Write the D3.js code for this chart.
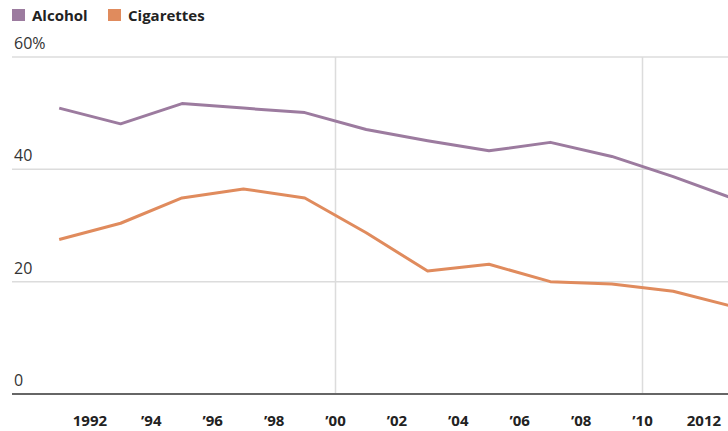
<!DOCTYPE html>
<html>
<head>
<meta charset="utf-8">
<script src="https://cdn.jsdelivr.net/npm/d3@7"></script>
<style>
  body { margin: 0; background: #fff; }
  svg { display: block; font-family: "Open Sans", sans-serif; }
</style>
</head>
<body>
<div id="chart"></div>
<script>
// data (odd survey years)
const years = [1991, 1993, 1995, 1997, 1999, 2001, 2003, 2005, 2007, 2009, 2011, 2013];
const alcohol = [50.9, 48.1, 51.7, 50.9, 50.1, 47.1, 45.1, 43.3, 44.8, 42.3, 38.7, 34.7];
const cigarettes = [27.5, 30.4, 34.9, 36.5, 34.9, 28.7, 21.9, 23.1, 20.0, 19.6, 18.3, 15.5];
const tickYears = [1992, 1994, 1996, 1998, 2000, 2002, 2004, 2006, 2008, 2010, 2012];
const yTicks = [0, 20, 40, 60];
const seriesNames = ["Alcohol", "Cigarettes"];
const colors = ["#9c7b9f", "#e08b5d"];

const width = 728;
const height = 431;

const svg = d3.select("#chart")
    .append("svg")
    .attr("width", width)
    .attr("height", height);

const x = d3.scaleLinear()
    .domain([2000, 2010])
    .range([335.5, 642.5]);

const y = d3.scaleLinear()
    .domain([0, 60])
    .range([394, 57]);

// horizontal gridlines + labels
yTicks.forEach(t => {
    if (t > 0) {
        svg.append("line")
            .attr("x1", 12).attr("x2", width)
            .attr("y1", y(t)).attr("y2", y(t))
            .attr("stroke", "#dcdcdc")
            .attr("stroke-width", 1.5);
    }
    svg.append("text")
        .attr("x", 14)
        .attr("y", y(t) - 8)
        .attr("font-size", 16)
        .attr("fill", "#333")
        .text(t === 60 ? "60%" : t);
});

// vertical gridlines at decades
[2000, 2010].forEach(yr => {
    svg.append("line")
        .attr("x1", x(yr)).attr("x2", x(yr))
        .attr("y1", y(60)).attr("y2", y(0))
        .attr("stroke", "#dcdcdc")
        .attr("stroke-width", 1.5);
});

// baseline
svg.append("line")
    .attr("x1", 12).attr("x2", width)
    .attr("y1", y(0)).attr("y2", y(0))
    .attr("stroke", "#666")
    .attr("stroke-width", 2);

// x tick labels
svg.selectAll(".xlabel")
    .data(tickYears)
    .enter()
    .append("text")
    .attr("class", "xlabel")
    .attr("x", d => x(d))
    .attr("y", 426)
    .attr("text-anchor", "middle")
    .attr("font-size", 15)
    .attr("font-weight", 700)
    .attr("fill", "#222")
    .text(d => (d === 1992 || d === 2012) ? d : "\u2019" + String(d).slice(2));

// lines
const line = d3.line()
    .x((d, i) => x(years[i]))
    .y(d => y(d));

[alcohol, cigarettes].forEach((vals, k) => {
    svg.append("path")
        .datum(vals)
        .attr("fill", "none")
        .attr("stroke", colors[k])
        .attr("stroke-width", 3)
        .attr("stroke-linejoin", "round")
        .attr("d", line);
});

// legend
const legendX = [12, 108];
seriesNames.forEach((name, k) => {
    svg.append("rect")
        .attr("x", legendX[k]).attr("y", 9)
        .attr("width", 13).attr("height", 12)
        .attr("fill", colors[k]);
    svg.append("text")
        .attr("x", legendX[k] + 20)
        .attr("y", 21)
        .attr("font-size", 15)
        .attr("font-weight", 700)
        .attr("fill", "#222")
        .text(name);
});
</script>
</body>
</html>
